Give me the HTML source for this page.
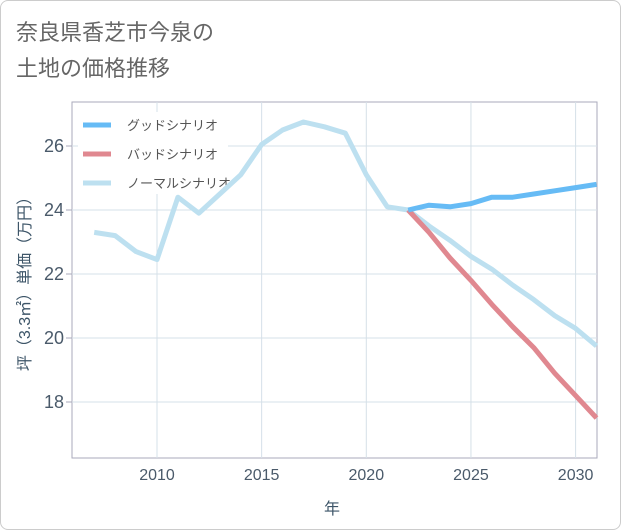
<!DOCTYPE html>
<html><head><meta charset="utf-8"><style>
body{margin:0;background:#fff;font-family:"Liberation Sans","Noto Sans CJK JP",sans-serif;}
.frame{position:absolute;left:0;top:0;width:619px;height:528px;border:1px solid #ccc;border-radius:8px;}
</style></head><body>
<div class="frame"></div>
<svg width="621" height="530" style="position:absolute;left:0;top:0" font-family="Liberation Sans, Noto Sans CJK JP, sans-serif">
<text x="16" y="40" font-size="22" fill="#666">奈良県香芝市今泉の</text>
<text x="16" y="76" font-size="22" fill="#666">土地の価格推移</text>
<g id="grid"></g>
<g>
<rect x="78" y="112" width="150" height="82" fill="#fff"/>
<line x1="83" y1="125" x2="111" y2="125" stroke="#66bbf5" stroke-width="5"/>
<text x="127" y="130" font-size="13" fill="#555">グッドシナリオ</text>
<line x1="83" y1="154" x2="111" y2="154" stroke="#e08890" stroke-width="5"/>
<text x="127" y="159" font-size="13" fill="#555">バッドシナリオ</text>
<line x1="83" y1="183" x2="111" y2="183" stroke="#bde0f0" stroke-width="5"/>
<text x="127" y="188" font-size="13" fill="#555">ノーマルシナリオ</text>
</g>
<g id="series"></g>
<g id="axes"></g>
<text x="332" y="514" font-size="16" fill="#3d5568" text-anchor="middle">年</text>
<text transform="translate(30,280) rotate(-90)" font-size="16" fill="#3d5568" text-anchor="middle">坪（3.3㎡）単価（万円）</text>
</svg>
<script>
const years=[2007,2008,2009,2010,2011,2012,2013,2014,2015,2016,2017,2018,2019,2020,2021,2022,2023,2024,2025,2026,2027,2028,2029,2030,2031];
const normalVals=[23.3,23.2,22.7,22.45,24.4,23.9,24.5,25.1,26.05,26.5,26.75,26.6,26.4,25.1,24.1,24.0,23.5,23.05,22.55,22.15,21.65,21.2,20.7,20.3,19.75];
const scenarioYears=[2022,2023,2024,2025,2026,2027,2028,2029,2030,2031];
const goodVals=[24.0,24.15,24.1,24.2,24.4,24.4,24.5,24.6,24.7,24.8];
const badVals=[24.0,23.3,22.5,21.8,21.05,20.35,19.7,18.9,18.2,17.5];
const xTicks=[2010,2015,2020,2025,2030];
const yTicks=[18,20,22,24,26];
const L=72,R=597,T=102,B=458;
const X=y=>157+(y-2010)*20.93;
const Y=v=>146+(26-v)*32;
const NS='http://www.w3.org/2000/svg';
function mk(t,a,p){const e=document.createElementNS(NS,t);for(const k in a)e.setAttribute(k,a[k]);document.getElementById(p).appendChild(e);return e;}
const pb=mk('rect',{x:L,y:T,width:R-L,height:B-T,fill:'none',stroke:'#aab',"stroke-width":1},'grid');


xTicks.forEach(t=>{const g=mk('line',{x1:X(t),x2:X(t),y1:T,y2:B,stroke:'#d5e0e8'},'grid');


const tx=mk('text',{x:X(t),y:B+22,"font-size":16,fill:'#4a5a6a',"text-anchor":'middle'},'axes');tx.textContent=t;

});
yTicks.forEach(t=>{const g=mk('line',{x1:L,x2:R,y1:Y(t),y2:Y(t),stroke:'#d5e0e8'},'grid');


const tk=mk('line',{x1:L-6,x2:L,y1:Y(t),y2:Y(t),stroke:'#aab'},'axes');


const tx=mk('text',{x:L-8,y:Y(t)+6,"font-size":18,fill:'#4a5a6a',"text-anchor":'end'},'axes');tx.textContent=t;

});
function line(xs,vs,c,n){const p=mk('polyline',{points:xs.map((y,i)=>X(y)+','+Y(vs[i])).join(' '),fill:'none',stroke:c,"stroke-width":5,"stroke-linejoin":'round'},'series');

}
line(years,normalVals,'#bde0f0','normal-line');
line(scenarioYears,badVals,'#e08890','bad-line');
line(scenarioYears,goodVals,'#66bbf5','good-line');
</script>
</body></html>
